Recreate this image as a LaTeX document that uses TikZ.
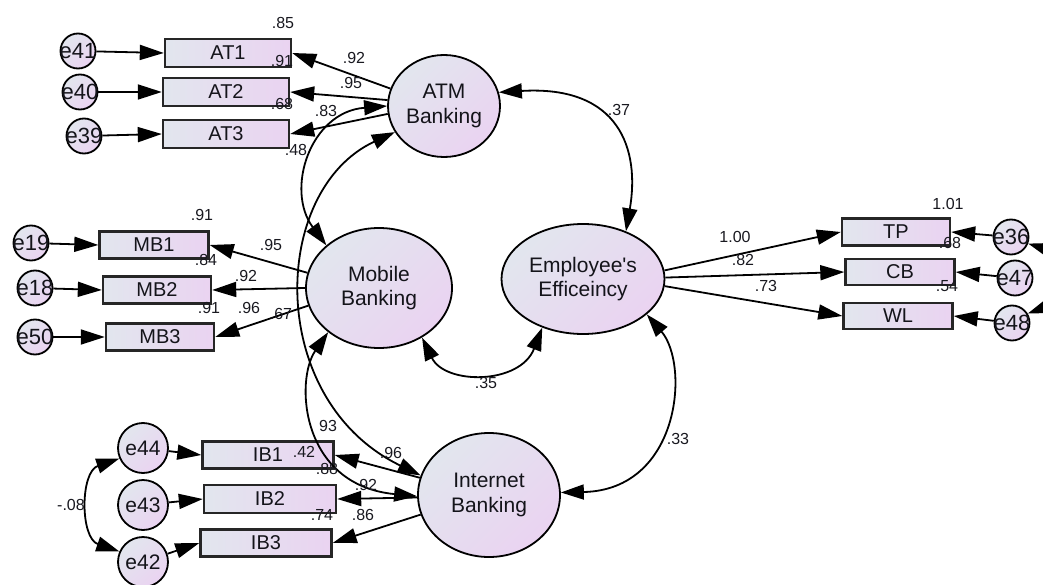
\documentclass[tikz,border=0pt]{standalone}
\usepackage{fontspec}
\setmainfont{Liberation Sans}
\usetikzlibrary{shapes.geometric,arrows.meta}
\definecolor{gA}{RGB}{226,230,238}
\definecolor{gB}{RGB}{234,211,241}
\definecolor{txt}{RGB}{20,20,26}
\definecolor{lblc}{RGB}{25,25,32}
\tikzset{
 lat/.style={ellipse, draw=black, line width=1.8pt, top color=gA, bottom color=gB, shading angle=45, inner sep=0pt, font=\fontsize{21}{24.5}\selectfont, align=center, text=txt},
 obs/.style={rectangle, draw=black!85, line width=2.4pt, left color=gA, right color=gB, inner sep=0pt, font=\fontsize{20}{22}\selectfont, text=txt},
 err/.style={circle, draw=black, line width=1.8pt, top color=gA, bottom color=gB, shading angle=45, inner sep=0pt},
 errs/.style={err, minimum size=35pt},
 errl/.style={err, minimum size=50pt},
 etxt/.style={font=\fontsize{22}{24}\selectfont, text=txt},
 etxtl/.style={font=\fontsize{21}{24}\selectfont, text=txt},
 pth/.style={line width=1.8pt, -{Triangle[length=24pt,width=15pt]}},
 cov/.style={line width=1.8pt, {Triangle[length=23pt,width=15pt]}-{Triangle[length=23pt,width=15pt]}},
 lbl/.style={font=\fontsize{16}{18}\selectfont, text=lblc, inner sep=0pt},
}
\begin{document}
\begin{tikzpicture}[x=1pt,y=-1pt]
\useasboundingbox (0,0) rectangle (1043,585);
\fill[white] (0,0) rectangle (1043,585);
\clip (0,0) rectangle (1043,585);
% latent variables
\node[lat, minimum width=112pt, minimum height=102pt] (atm) at (444,106) {ATM\\Banking};
\node[lat, minimum width=146pt, minimum height=120pt] (mob) at (379,288) {Mobile\\Banking};
\node[lat, minimum width=163pt, minimum height=110pt] (ee) at (583,279) {Employee\textquotesingle s\\Efficeincy};
\node[lat, minimum width=142pt, minimum height=124pt] (ib) at (489,495) {Internet\\Banking};
% observed variables
\node[obs, minimum width=126pt, minimum height=28pt] (at1) at (228,53) {AT1};
\node[obs, minimum width=126pt, minimum height=28pt] (at2) at (226,92) {AT2};
\node[obs, minimum width=126pt, minimum height=28pt] (at3) at (226,134) {AT3};
\node[obs, minimum width=109pt, minimum height=27pt] (mb1) at (154,245) {MB1};
\node[obs, minimum width=108pt, minimum height=27pt] (mb2) at (157,290) {MB2};
\node[obs, minimum width=108pt, minimum height=27pt] (mb3) at (160,337) {MB3};
\node[obs, minimum width=131pt, minimum height=27pt] (ib1) at (268,455) {IB1};
\node[obs, minimum width=132pt, minimum height=28pt] (ib2) at (270,499) {IB2};
\node[obs, minimum width=131pt, minimum height=27pt] (ib3) at (266,543) {IB3};
\node[obs, minimum width=108pt, minimum height=27pt] (tp) at (896,232) {TP};
\node[obs, minimum width=109pt, minimum height=26pt] (cb) at (900,272) {CB};
\node[obs, minimum width=109pt, minimum height=26pt] (wl) at (898,316) {WL};
% error terms
\node[errs, label={[etxt]center:e41}] (e41) at (78,51) {};
\node[errs, label={[etxt]center:e40}] (e40) at (80,92) {};
\node[errs, label={[etxt]center:e39}] (e39) at (84,136) {};
\node[errs, label={[etxt]center:e19}] (e19) at (31,243) {};
\node[errs, label={[etxt]center:e18}] (e18) at (35,288) {};
\node[errs, label={[etxt]center:e50}] (e50) at (35,337) {};
\node[errl, label={[etxtl]center:e44}] (e44) at (143,448) {};
\node[errl, label={[etxtl]center:e43}] (e43) at (143,505) {};
\node[errl, label={[etxtl]center:e42}] (e42) at (143,562) {};
\node[errs, label={[etxt]center:e36}] (e36) at (1011,237) {};
\node[errs, label={[etxt]center:e47}] (e47) at (1015,278) {};
\node[errs, label={[etxt]center:e48}] (e48) at (1012,323) {};
% loadings
\draw[pth] (atm.162) -- (at1.east);
\draw[pth] (atm.174) -- (at2.east);
\draw[pth] (atm.188) -- (at3.east);
\draw[pth] (mob.168) -- (mb1.east);
\draw[pth] (mob.180) -- (mb2.east);
\draw[pth] (mob.194) -- (mb3.east);
\draw[pth] (ib.166) -- (ib1.east);
\draw[pth] (ib.182) -- (ib2.east);
\draw[pth] (ib.196) -- (ib3.east);
\draw[pth] (ee.6) -- (tp.west);
\draw[pth] (ee.1) -- (cb.west);
\draw[pth] (ee.-5) -- (wl.west);
% error paths
\draw[pth] (e41) -- (at1.west);
\draw[pth] (e40) -- (at2.west);
\draw[pth] (e39) -- (at3.west);
\draw[pth] (e19) -- (mb1.west);
\draw[pth] (e18) -- (mb2.west);
\draw[pth] (e50) -- (mb3.west);
\draw[pth] (e44) -- (ib1.west);
\draw[pth] (e43) -- (ib2.west);
\draw[pth] (e42) -- (ib3.west);
\draw[pth] (e36) -- (tp.east);
\draw[pth] (e47) -- (cb.east);
\draw[pth] (e48) -- (wl.east);
% covariances
\draw[cov] (atm.14) .. controls (620,85) and (640,150) .. (ee.48);
\draw[cov] (mob.-49) .. controls (445,385) and (520,385) .. (ee.-130);
\draw[cov] (ee.-29) .. controls (690,365) and (680,490) .. (ib.2);
\draw[cov] (atm.180) .. controls (310,112) and (285,190) .. (mob.141);
\draw[cov] (atm.208) .. controls (270,190) and (265,400) .. (ib.164);
\draw[cov] (mob.221) .. controls (295,380) and (300,485) .. (ib.181);
\draw[cov] (e44.204) .. controls (80,472) and (80,538) .. (e42.156);
\draw[cov] (e36.-21) .. controls (1065,255) and (1065,300) .. (e48.31);
% labels
\node[lbl] (l01) at (283,23) {.85};
\node[lbl] (l02) at (282,61) {.91};
\node[lbl] (l03) at (282,104) {.68};
\node[lbl] (l04) at (296,150) {.48};
\node[lbl] (l05) at (354,58) {.92};
\node[lbl] (l06) at (351,83) {.95};
\node[lbl] (l07) at (326,111) {.83};
\node[lbl] (l08) at (202,215) {.91};
\node[lbl] (l09) at (271,245) {.95};
\node[lbl] (l10) at (206,260) {.84};
\node[lbl] (l11) at (246,276) {.92};
\node[lbl] (l12) at (209,308) {.91};
\node[lbl] (l13) at (249,308) {.96};
\node[lbl] (l14) at (281,314) {.67};
\node[lbl] (l15) at (304,452) {.42};
\node[lbl] (l16) at (327,469) {.88};
\node[lbl] (l17) at (366,485) {.92};
\node[lbl] (l18) at (322,515) {.74};
\node[lbl] (l19) at (363,515) {.86};
\node[lbl] (l20) at (328,426) {93};
\node[lbl] (l21) at (391,453) {.96};
\node[lbl] (l22) at (71,505) {-.08};
\node[lbl] (l23) at (619,110) {.37};
\node[lbl] (l24) at (486,383) {.35};
\node[lbl] (l25) at (678,439) {.33};
\node[lbl] (l26) at (735,237) {1.00};
\node[lbl] (l27) at (743,260) {.82};
\node[lbl] (l28) at (766,286) {.73};
\node[lbl] (l29) at (948,204) {1.01};
\node[lbl] (l30) at (950,243) {.68};
\node[lbl] (l31) at (947,286) {.54};
\end{tikzpicture}
\end{document}
